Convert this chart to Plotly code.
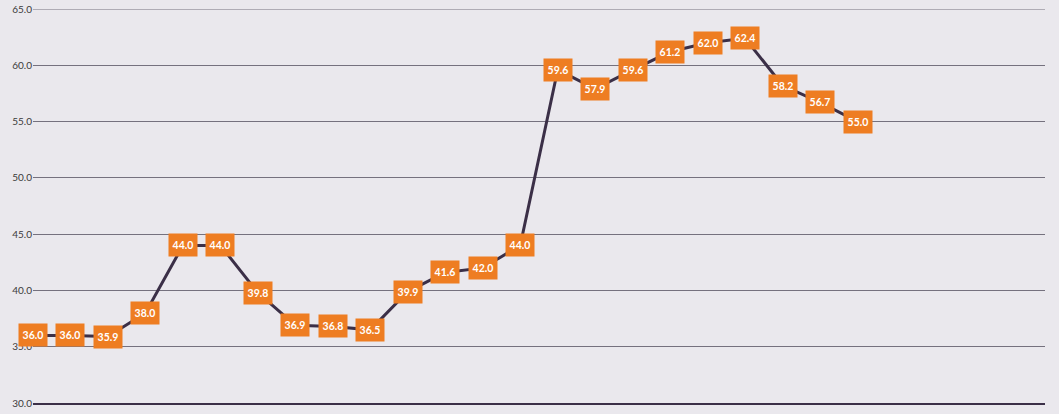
import plotly.graph_objects as go

# 28 slots on the x axis, only the first 23 carry data
periods = list(range(23))
values = [36.0, 36.0, 35.9, 38.0, 44.0, 44.0, 39.8, 36.9, 36.8, 36.5, 39.9,
          41.6, 42.0, 44.0, 59.6, 57.9, 59.6, 61.2, 62.0, 62.4, 58.2, 56.7, 55.0]
y_ticks = [30, 35, 40, 45, 50, 55, 60, 65]

LINE = "#3b2f47"
ORANGE = "#ee7d22"
BG = "#eae8ed"
GRID = "#75717e"

fig = go.Figure()
fig.add_trace(go.Scatter(
    x=periods, y=values, mode="lines",
    line=dict(color=LINE, width=3),
    hoverinfo="x+y", showlegend=False,
))

for x, v in zip(periods, values):
    fig.add_annotation(
        x=x, y=v, text=f"<b>{v:.1f}</b>", showarrow=False,
        bgcolor=ORANGE, width=26, height=20, borderpad=1,
        font=dict(color="white", size=10.5, family="Lato"),
    )

# plotly skips the gridline sitting on the top edge, draw it by hand
fig.add_hline(y=y_ticks[-1], line=dict(color=GRID, width=1), layer="below")

fig.update_layout(
    width=1059, height=414,
    margin=dict(l=33, r=14, t=9, b=11),
    paper_bgcolor=BG, plot_bgcolor=BG,
    font=dict(family="Lato", size=10, color="#3a3a3a"),
)
fig.update_xaxes(range=[0, 27], showgrid=False, zeroline=False, automargin=False,
                 showticklabels=False, showline=True, linecolor=LINE, linewidth=2)
fig.update_yaxes(range=[30, 65], tickvals=y_ticks, tickformat=".1f", automargin=False,
                 showgrid=True, gridcolor=GRID, gridwidth=1, zeroline=False,
                 ticks="", ticklen=0, ticklabeloverflow="allow")

# drop the default body margin so the figure sits flush in the window
fig.write_html("out.html", config={"displayModeBar": False},
               post_script="document.body.style.margin='0';")
